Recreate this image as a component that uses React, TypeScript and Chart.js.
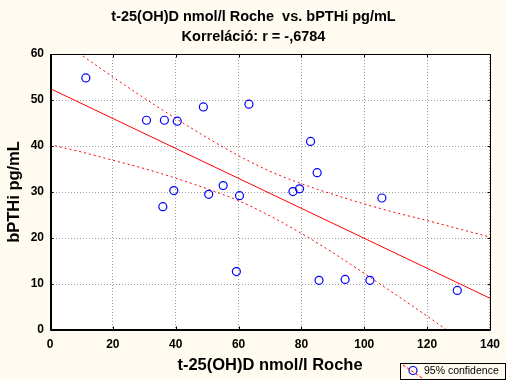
import React, { useEffect, useRef } from "react";
import { Chart, registerables } from "chart.js";

Chart.register(...registerables);

// ---- data ----
const titleLines = ["t-25(OH)D nmol/l Roche  vs. bPTHi pg/mL", "Korreláció: r = -,6784"];
const xTitle = "t-25(OH)D nmol/l Roche";
const yTitle = "bPTHi pg/mL";
const legendLabel = "95% confidence";

const vitD = [11.4, 30.7, 36.4, 40.5, 48.8, 63.3, 82.9, 85.0, 77.3, 79.4, 105.6, 85.6, 93.9, 101.8, 129.6, 35.9, 39.4, 50.5, 55.1, 60.3, 59.3];
const pth = [54.8, 45.6, 45.6, 45.4, 48.5, 49.1, 41.0, 34.2, 30.1, 30.7, 28.7, 10.8, 11.0, 10.8, 8.6, 26.8, 30.3, 29.5, 31.4, 29.2, 12.7];

const fitX = [0, 140];
const fitY = [52.5, 6.9];

const bandX = [0, 10, 20, 30, 40, 50, 60, 70, 80, 90, 100, 110, 120, 130, 140];
const upperBand = [64.5, 59.8, 55.0, 50.4, 46.0, 41.8, 37.9, 34.5, 31.8, 29.5, 27.4, 25.5, 23.8, 22.0, 20.2];
const lowerBand = [40.3, 38.7, 36.9, 35.1, 33.0, 30.7, 28.1, 24.8, 21.0, 16.8, 12.3, 7.7, 3.0, -1.8, -6.6];

const xTicksMin = 0, xTicksMax = 140, xStep = 20;
const yTicksMin = 0, yTicksMax = 60, yStep = 10;

const BG = "#fffbf0";
const RED = "#ff0000";
const BLUE = "#0000ff";

const pts = (xs: number[], ys: number[]) => xs.map((x, i) => ({ x, y: ys[i] }));

const decorPlugin = {
  id: "decor",
  beforeDraw(chart: any) {
    const { ctx, chartArea: a, width, height } = chart;
    ctx.save();
    ctx.fillStyle = BG;
    ctx.fillRect(0, 0, width, height);
    ctx.fillStyle = "#ffffff";
    ctx.fillRect(a.left, a.top, a.right - a.left, a.bottom - a.top);
    ctx.restore();
  },
  afterDraw(chart: any) {
    const { ctx, chartArea: a, width } = chart;
    const xs = chart.scales.x;
    const ys = chart.scales.y;
    ctx.save();
    // titles
    ctx.fillStyle = "#000";
    ctx.textAlign = "center";
    ctx.textBaseline = "middle";
    ctx.font = "bold 14.5px Arial, 'Liberation Sans', sans-serif";
    ctx.fillText(titleLines[0], width / 2, 16.5);
    ctx.fillText(titleLines[1], width / 2, 37);
    // frame
    ctx.strokeStyle = "#000";
    ctx.lineWidth = 1;
    const L = Math.round(a.left) + 0.5, R = Math.round(a.right) + 0.5;
    const T = Math.round(a.top) + 0.5, B = Math.round(a.bottom) - 0.5;
    ctx.strokeRect(L, T, R - L, B - T);
    ctx.beginPath();
    ctx.moveTo(L + 1, T); ctx.lineTo(L + 1, B + 1);
    ctx.moveTo(L, B + 1); ctx.lineTo(R, B + 1);
    ctx.stroke();
    // inner ticks
    ctx.beginPath();
    for (let v = xTicksMin; v <= xTicksMax; v += xStep) {
      const px = Math.round(xs.getPixelForValue(v)) + 0.5;
      ctx.moveTo(px, T); ctx.lineTo(px, T + 3);
      ctx.moveTo(px, B); ctx.lineTo(px, B - 3);
    }
    for (let v = yTicksMin; v <= yTicksMax; v += yStep) {
      const py = Math.round(ys.getPixelForValue(v)) + 0.5;
      ctx.moveTo(L, py); ctx.lineTo(L + 3, py);
      ctx.moveTo(R, py); ctx.lineTo(R - 3, py);
    }
    ctx.stroke();
    // legend box
    ctx.fillStyle = BG;
    ctx.fillRect(400.5, 363.5, 105, 16);
    ctx.strokeStyle = "#000";
    ctx.strokeRect(400.5, 363.5, 105, 16);
    ctx.strokeStyle = BLUE;
    ctx.lineWidth = 1.2;
    ctx.beginPath();
    ctx.arc(413, 370.5, 4, 0, Math.PI * 2);
    ctx.stroke();
    ctx.strokeStyle = RED;
    ctx.lineWidth = 1;
    ctx.setLineDash([3, 2]);
    ctx.beginPath();
    ctx.moveTo(403, 365);
    ctx.lineTo(422, 378);
    ctx.stroke();
    ctx.setLineDash([]);
    ctx.fillStyle = "#000";
    ctx.textAlign = "left";
    ctx.font = "10.5px Arial, 'Liberation Sans', sans-serif";
    ctx.fillText(legendLabel, 424, 371.5);
    ctx.restore();
  },
};

export default function App() {
  const ref = useRef<HTMLCanvasElement | null>(null);
  useEffect(() => {
    document.body.style.margin = "0";
    const canvas = ref.current;
    if (!canvas) return;
    const tickFont = { family: "Arial, 'Liberation Sans', sans-serif", size: 12, weight: "bold" as const };
    const titleFont = { family: "Arial, 'Liberation Sans', sans-serif", size: 16.5, weight: "bold" as const };
    const chart = new Chart(canvas, {
      type: "scatter",
      data: {
        datasets: [
          {
            label: "data",
            data: pts(vitD, pth),
            showLine: false,
            pointStyle: "circle",
            pointRadius: 4,
            pointBorderWidth: 1.2,
            pointBorderColor: BLUE,
            pointBackgroundColor: "rgba(0,0,0,0)",
            order: 0,
          } as any,
          {
            label: "fit",
            data: pts(fitX, fitY),
            showLine: true,
            borderColor: RED,
            borderWidth: 1,
            pointRadius: 0,
            order: 1,
          } as any,
          {
            label: "upper",
            data: pts(bandX, upperBand),
            showLine: true,
            borderColor: RED,
            borderWidth: 1,
            borderDash: [2, 3],
            pointRadius: 0,
            cubicInterpolationMode: "monotone",
            order: 2,
          } as any,
          {
            label: "lower",
            data: pts(bandX, lowerBand),
            showLine: true,
            borderColor: RED,
            borderWidth: 1,
            borderDash: [2, 3],
            pointRadius: 0,
            cubicInterpolationMode: "monotone",
            order: 3,
          } as any,
        ],
      },
      options: {
        responsive: false,
        animation: false,
        events: [],
        layout: { padding: { left: 0, right: 15, top: 54, bottom: 0 } },
        plugins: { legend: { display: false }, title: { display: false }, tooltip: { enabled: false } },
        scales: {
          x: {
            type: "linear",
            min: xTicksMin,
            max: xTicksMax,
            afterFit: (s: any) => { s.height = 50; },
            ticks: { stepSize: xStep, color: "#000", font: tickFont, padding: 7 },
            grid: { color: "#a0a0a0", lineWidth: 1, drawTicks: false },
            border: { display: false, dash: [1, 2] },
            title: { display: true, text: xTitle, color: "#000", font: titleFont, padding: { top: 0, bottom: 5 } },
          },
          y: {
            type: "linear",
            min: yTicksMin,
            max: yTicksMax,
            afterFit: (s: any) => { s.width = 50; },
            ticks: { stepSize: yStep, color: "#000", font: tickFont, padding: 6 },
            grid: { color: "#a0a0a0", lineWidth: 1, drawTicks: false },
            border: { display: false, dash: [1, 2] },
            title: { display: true, text: yTitle, color: "#000", font: titleFont, padding: { top: 5, bottom: 0 } },
          },
        },
      } as any,
      plugins: [decorPlugin],
    });
    return () => chart.destroy();
  }, []);
  return <canvas ref={ref} width={507} height={380} style={{ display: "block" }} />;
}
